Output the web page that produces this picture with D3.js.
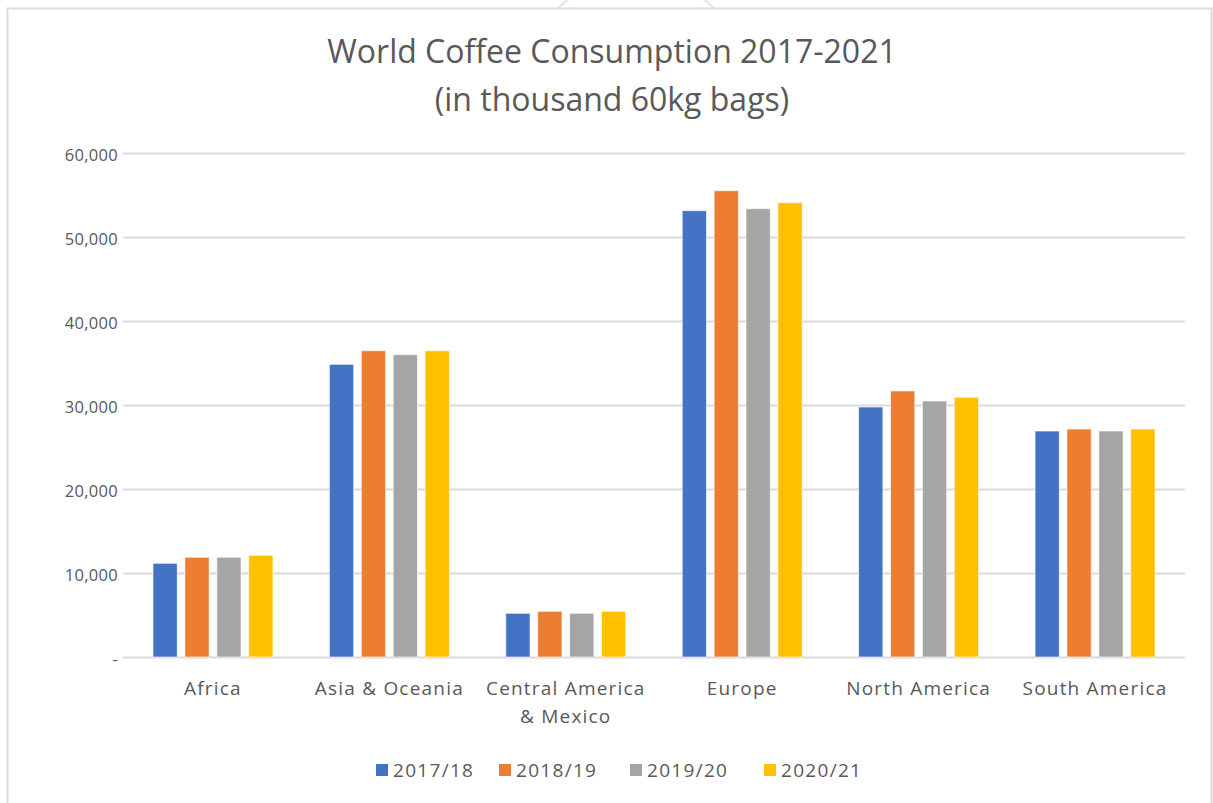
<!DOCTYPE html>
<html>
<head>
<meta charset="utf-8">
<script src="https://cdn.jsdelivr.net/npm/d3@7"></script>
<style>
	body { margin: 0; background: #fff; }
	svg text { font-family: "Open Sans", "DejaVu Sans", sans-serif; fill: #595959; }
</style>
</head>
<body>
<div id="chart"></div>
<script>
// data
var regions = ["Africa", "Asia & Oceania", "Central America & Mexico", "Europe", "North America", "South America"];
var seasons = ["2017/18", "2018/19", "2019/20", "2020/21"];
var v2017 = [11150, 34840, 5200, 53130, 29760, 26900];
var v2018 = [11870, 36460, 5440, 55510, 31670, 27140];
var v2019 = [11870, 35990, 5200, 53370, 30480, 26900];
var v2020 = [12100, 36460, 5440, 54080, 30920, 27140];
var yTicks = [0, 10000, 20000, 30000, 40000, 50000, 60000];
var colors = ["#4472C4", "#ED7D31", "#A5A5A5", "#FFC000"];

var series = [v2017, v2018, v2019, v2020];

var W = 1213, H = 803;
// plot area
var margin = {top: 153, right: 28, bottom: 146, left: 123};
var width = W - margin.left - margin.right;
var height = H - margin.top - margin.bottom;

var svg = d3.select("#chart").append("svg")
	.attr("width", W)
	.attr("height", H);

// faint circle peeking above the frame
svg.append("circle")
	.attr("cx", 636)
	.attr("cy", 86)
	.attr("r", 110)
	.attr("fill", "none")
	.attr("stroke", "#e4e4e4")
	.attr("stroke-width", 2);
svg.append("rect")
	.attr("x", 8).attr("y", 9)
	.attr("width", W).attr("height", H)
	.attr("fill", "#fff");

// chart frame
svg.append("path")
	.attr("d", "M7.5," + H + "V8.5H1211.5V" + H)
	.attr("fill", "none")
	.attr("stroke", "#dcdcdc")
	.attr("stroke-width", 2);

// title
var title = svg.append("text")
	.attr("text-anchor", "middle")
	.style("font-size", "32px");
title.append("tspan").attr("x", 612).attr("y", 63).text("World Coffee Consumption 2017-2021");
title.append("tspan").attr("x", 612).attr("y", 111).text("(in thousand 60kg bags)");

var g = svg.append("g")
	.attr("transform", "translate(" + margin.left + "," + margin.top + ")");

var x0 = d3.scaleBand().domain(regions).range([0, width]).paddingInner(0.32).paddingOuter(0.17);
var x1 = d3.scaleBand().domain(seasons).range([0, x0.bandwidth()]).paddingInner(0.24);
var y = d3.scaleLinear().domain([0, 60000]).range([height, 0]);

// gridlines
g.append("g")
	.selectAll("line")
	.data(yTicks)
	.enter().append("line")
	.attr("x1", 0)
	.attr("x2", width)
	.attr("y1", function(d) { return Math.round(y(d)) + 0.5; })
	.attr("y2", function(d) { return Math.round(y(d)) + 0.5; })
	.attr("stroke", "#d9d9d9")
	.attr("stroke-width", 2);

// y axis labels
var yAxis = g.append("g")
	.attr("transform", "translate(-5,0)")
	.call(d3.axisLeft(y).tickValues(yTicks).tickSize(0).tickPadding(0)
		.tickFormat(function(d) { return d === 0 ? "-" : d3.format(",")(d); }));
yAxis.select(".domain").remove();
yAxis.selectAll("text")
	.attr("dy", "0.45em")
	.style("font-size", "16.5px")
	.style("font-family", "'Open Sans', sans-serif")
	.style("letter-spacing", "0.3px")
	.attr("fill", "#595959");

// bars
var groups = g.selectAll(".grp")
	.data(regions)
	.enter().append("g")
	.attr("class", "grp")
	.attr("transform", function(d) { return "translate(" + x0(d) + ",0)"; });

groups.selectAll("rect")
	.data(function(d, i) {
		return seasons.map(function(s, j) { return {season: s, value: series[j][i], k: j}; });
	})
	.enter().append("rect")
	.attr("x", function(d) { return x1(d.season); })
	.attr("y", function(d) { return y(d.value); })
	.attr("width", x1.bandwidth())
	.attr("height", function(d) { return height - y(d.value); })
	.attr("fill", function(d) { return colors[d.k]; })
	.attr("stroke", "#fff")
	.attr("stroke-opacity", 0.6)
	.attr("stroke-width", 1);

// category labels
var xl = g.append("g").attr("transform", "translate(0," + height + ")");
regions.forEach(function(r) {
	var lines = r === "Central America & Mexico" ? ["Central America", "& Mexico"] : [r];
	var t = xl.append("text")
		.attr("text-anchor", "middle")
		.style("font-size", "19px")
		.style("letter-spacing", "1.2px");
	lines.forEach(function(l, i) {
		t.append("tspan")
			.attr("x", x0(r) + x0.bandwidth() / 2)
			.attr("y", 38 + i * 28)
			.text(l);
	});
});

// legend
var legendX = [376, 499, 630, 764];
var legend = svg.append("g");
seasons.forEach(function(s, i) {
	legend.append("rect")
		.attr("x", legendX[i])
		.attr("y", 764)
		.attr("width", 12)
		.attr("height", 12)
		.attr("fill", colors[i]);
	legend.append("text")
		.attr("x", legendX[i] + 17)
		.attr("y", 777)
		.style("font-size", "19px")
		.style("letter-spacing", "1.3px")
		.text(s);
});
</script>
</body>
</html>
